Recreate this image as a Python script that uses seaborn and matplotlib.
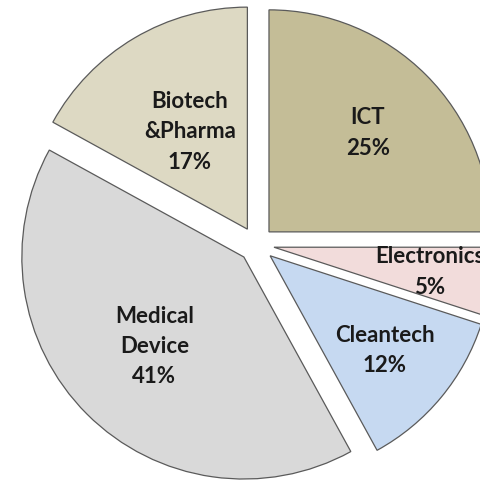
import numpy as np
import seaborn as sns
import matplotlib.pyplot as plt

# Sector shares, clockwise from 12 o'clock
sectors = ['ICT', 'Electronics', 'Cleantech', 'Medical\nDevice', 'Biotech\n&Pharma']
shares = [25, 5, 12, 41, 17]

# styling
slice_colors = ['#C4BD97', '#F2DCDB', '#C6D9F1', '#D9D9D9', '#DDD9C3']
label_dist = [0.63, 0.71, 0.67, 0.57, 0.51]

sns.set_theme(style='white')
plt.rcParams['font.family'] = ['Lato', 'DejaVu Sans']

fig = plt.figure(figsize=(4.8, 4.8), dpi=100)
ax = fig.add_axes([0, 0, 1, 1])

wedges, _ = ax.pie(shares, startangle=90, counterclock=False,
                   explode=[0.08] * len(shares), colors=slice_colors,
                   wedgeprops=dict(edgecolor='#5a5a5a', linewidth=0.9))

# data labels inside each slice
for w, name, val, d in zip(wedges, sectors, shares, label_dist):
    mid = np.deg2rad((w.theta1 + w.theta2) / 2)
    cx, cy = w.center
    ax.text(cx + d * w.r * np.cos(mid), cy + d * w.r * np.sin(mid),
            f'{name}\n{val}%', ha='center', va='center',
            fontsize=16, fontweight='bold', color='#1a1a1a', linespacing=1.55)

ax.set_xlim(-1.155, 1.007)
ax.set_ylim(-1.061, 1.101)
ax.set_aspect('equal')
ax.axis('off')

fig.savefig('out.png', dpi=100)
